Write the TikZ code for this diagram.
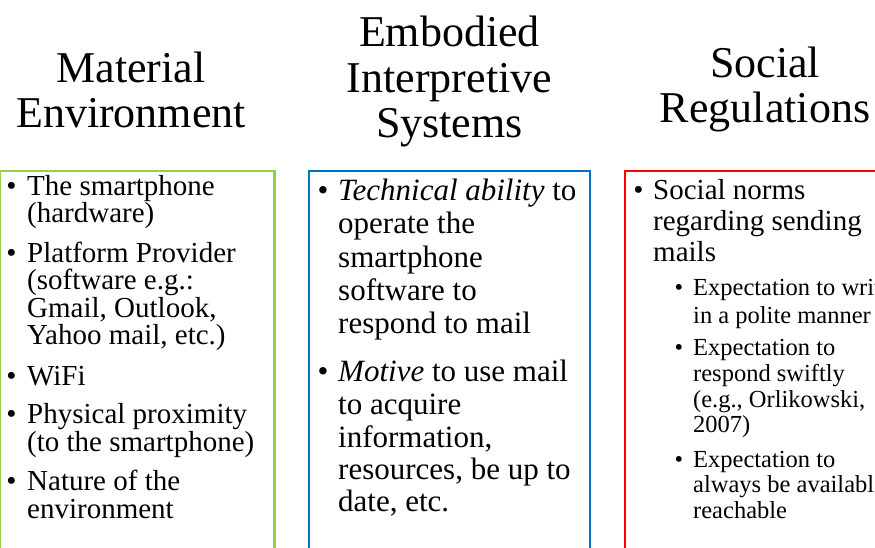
\documentclass[tikz,border=0pt]{standalone}
\usepackage{fontspec}
\setmainfont{Liberation Serif}
\definecolor{matgreen}{HTML}{92D050}
\definecolor{embblue}{HTML}{0070C0}
\definecolor{socred}{HTML}{FF0000}
\begin{document}
\begin{tikzpicture}[x=1pt,y=-1pt,
  head/.style={font=\fontsize{44}{44}\selectfont, anchor=base, inner sep=0},
  colbox/.style={draw, line width=2.5pt, outer sep=0, inner sep=0, anchor=north west, minimum height=409pt},
  lineA/.style={font=\fontsize{29}{29}\selectfont, anchor=base west, inner sep=0},
  lineB/.style={font=\fontsize{31}{31}\selectfont, anchor=base west, inner sep=0},
  lineC/.style={font=\fontsize{24.5}{24.5}\selectfont, anchor=base west, inner sep=0},
  bulA/.style={font=\fontsize{29}{29}\selectfont, anchor=base, inner sep=0},
  bulB/.style={font=\fontsize{31}{31}\selectfont, anchor=base, inner sep=0},
  bulC/.style={font=\fontsize{24.5}{24.5}\selectfont, anchor=base, inner sep=0}]
\clip (0,0) rectangle (875,547);
\fill[white] (0,0) rectangle (875,547);

% headings
\node[head] (hL1) at (131,82) {Material};
\node[head] (hL2) at (131,127) {Environment};
\node[head] (hM1) at (449.5,46) {Embodied};
\node[head] (hM2) at (449.5,92) {Interpretive};
\node[head] (hM3) at (449.5,137) {Systems};
\node[head] (hR1) at (765,77) {Social};
\node[head] (hR2) at (765,122) {Regulations};

% column frames
\node[colbox, draw=matgreen, minimum width=275pt] (boxL) at (-0.5,171) {};
\node[colbox, draw=embblue, minimum width=281pt] (boxM) at (309,171) {};
\node[colbox, draw=socred, minimum width=280pt] (boxR) at (625,171) {};

% material environment
\node[bulA] (bL1) at (11.5,195) {•};
\node[lineA] (tL1a) at (27,195) {The smartphone};
\node[lineA] (tL1b) at (27,222) {(hardware)};
\node[bulA] (bL2) at (11.5,262) {•};
\node[lineA] (tL2a) at (27,262) {Platform Provider};
\node[lineA] (tL2b) at (27,289) {(software e.g.:};
\node[lineA] (tL2c) at (27,317) {Gmail, Outlook,};
\node[lineA] (tL2d) at (27,344) {Yahoo mail, etc.)};
\node[bulA] (bL3) at (11.5,385) {•};
\node[lineA] (tL3a) at (27,385) {WiFi};
\node[bulA] (bL4) at (11.5,423) {•};
\node[lineA] (tL4a) at (27,423) {Physical proximity};
\node[lineA] (tL4b) at (27,451) {(to the smartphone)};
\node[bulA] (bL5) at (11.5,490) {•};
\node[lineA] (tL5a) at (27,490) {Nature of the};
\node[lineA] (tL5b) at (27,518) {environment};

% embodied interpretive systems
\node[bulB] (bM1) at (323,200) {•};
\node[lineB] (tM1a) at (338,200) {\textit{Technical ability} to};
\node[lineB] (tM1b) at (338,233) {operate the};
\node[lineB] (tM1c) at (338,267) {smartphone};
\node[lineB] (tM1d) at (338,300) {software to};
\node[lineB] (tM1e) at (338,333) {respond to mail};
\node[bulB] (bM2) at (323,381) {•};
\node[lineB] (tM2a) at (338,381) {\textit{Motive} to use mail};
\node[lineB] (tM2b) at (338,414) {to acquire};
\node[lineB] (tM2c) at (338,447) {information,};
\node[lineB] (tM2d) at (338,479) {resources, be up to};
\node[lineB] (tM2e) at (338,511) {date, etc.};

% social regulations
\node[bulA] (bR1) at (638.5,199) {•};
\node[lineA] (tR1a) at (653,199) {Social norms};
\node[lineA] (tR1b) at (653,230) {regarding sending};
\node[lineA] (tR1c) at (653,261) {mails};
\node[bulC] (bR2) at (679,295) {•};
\node[lineC] (tR2a) at (693,295) {Expectation to write};
\node[lineC] (tR2b) at (693,323) {in a polite manner};
\node[bulC] (bR3) at (679,355) {•};
\node[lineC] (tR3a) at (693,355) {Expectation to};
\node[lineC] (tR3b) at (693,381) {respond swiftly};
\node[lineC] (tR3c) at (693,407) {(e.g., Orlikowski,};
\node[lineC] (tR3d) at (693,432) {2007)};
\node[bulC] (bR4) at (679,467) {•};
\node[lineC] (tR4a) at (693,467) {Expectation to};
\node[lineC] (tR4b) at (693,492) {always be available/};
\node[lineC] (tR4c) at (693,518) {reachable};
\end{tikzpicture}
\end{document}
